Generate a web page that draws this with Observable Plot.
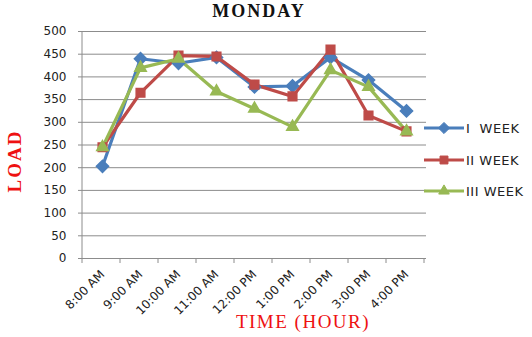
<!DOCTYPE html>
<html><head><meta charset="utf-8">
<script src="https://cdn.jsdelivr.net/npm/d3@7"></script>
<script src="https://cdn.jsdelivr.net/npm/@observablehq/plot@0.6"></script>
<style>
body{margin:0;background:#fff;}
#c{position:relative;width:532px;height:337px;}
</style></head><body><div id="c"></div>
<script>
const hours = ["8:00 AM","9:00 AM","10:00 AM","11:00 AM","12:00 PM","1:00 PM","2:00 PM","3:00 PM","4:00 PM"];
const week1 = [203, 440, 430, 443, 378, 380, 443, 393, 325];
const week2 = [245, 365, 447, 445, 383, 357, 460, 315, 280];
const week3 = [245, 420, 440, 368, 330, 290, 415, 378, 280];
const seriesNames = ["I  WEEK", "II WEEK", "III WEEK"];
const seriesColors = ["#4a7ebb", "#be4b48", "#98b954"];
const seriesSymbols = ["diamond2", "square2", "triangle2"];
const yTicks = [0,50,100,150,200,250,300,350,400,450,500];

const allVals = [week1, week2, week3];
const data = [];
allVals.forEach((vals, s) => vals.forEach((v, i) => data.push({hour: hours[i], load: v, series: seriesNames[s]})));

const chart = Plot.plot({
  width: 532, height: 337,
  marginLeft: 82, marginRight: 106, marginTop: 31, marginBottom: 79,
  style: {fontFamily: "DejaVu Sans", fontSize: "12px", color: "#222", background: "#fff", overflow: "visible"},
  x: {type: "band", domain: hours, padding: 0, label: null},
  y: {domain: [0, 500], label: null},
  color: {domain: seriesNames, range: seriesColors},
  symbol: {domain: seriesNames, range: seriesSymbols},
  marks: [
    Plot.ruleY(yTicks, {stroke: "#8c8c8c", strokeWidth: 1}),
    Plot.axisY({ticks: yTicks, tickSize: 4, tickPadding: 12, stroke: "#8c8c8c", label: null, style: {letterSpacing: "1.5px", fontSize: "12.5px"}}),
    Plot.axisX({tickSize: 0, tickRotate: -45, tickPadding: 14, label: null, style: {fontSize: "14px", letterSpacing: "0.5px"}}),
    Plot.line(data, {x: "hour", y: "load", z: "series", stroke: "series", strokeWidth: 3.2}),
    Plot.dot(data, {x: "hour", y: "load", symbol: "series", fill: "series", stroke: "series", r: 5.5})
  ]
});

const svg = d3.select(chart);
const xs = chart.scale("x");
const ys = chart.scale("y");
const x0 = xs.range[0];
const yb = ys.apply(0);
svg.append("line").attr("x1", x0).attr("x2", x0).attr("y1", ys.apply(500)).attr("y2", yb).attr("stroke", "#8c8c8c");
for (let i = 0; i <= hours.length; i++) {
  const xx = x0 + i * xs.step;
  svg.append("line").attr("x1", xx).attr("x2", xx).attr("y1", yb).attr("y2", yb + 5).attr("stroke", "#8c8c8c");
}
svg.append("text").attr("x", 259).attr("y", 17).attr("text-anchor", "middle")
  .attr("font-family", "Liberation Serif").attr("font-size", 18).attr("font-weight", "bold")
  .attr("letter-spacing", "2px").attr("fill", "#111").text("MONDAY");
svg.append("text").attr("transform", "translate(21,161) rotate(-90)").attr("text-anchor", "middle")
  .attr("font-family", "Liberation Serif").attr("font-size", 19).attr("font-weight", "bold")
  .attr("letter-spacing", "2px").attr("fill", "#ee1111").text("LOAD");
svg.append("text").attr("x", 303).attr("y", 328).attr("text-anchor", "middle")
  .attr("font-family", "Liberation Serif").attr("font-size", 19)
  .attr("letter-spacing", "1.5px").attr("fill", "#ee1111").text("TIME (HOUR)");
const legY = [128, 160, 191];
const legSym = [d3.symbolDiamond2, d3.symbolSquare2, d3.symbolTriangle2];
seriesNames.forEach((n, s) => {
  const g = svg.append("g").attr("transform", `translate(424,${legY[s]})`);
  g.append("line").attr("x1", 0).attr("x2", 40).attr("stroke", seriesColors[s]).attr("stroke-width", 3);
  g.append("path").attr("transform", "translate(20,0)").attr("d", d3.symbol(legSym[s], 80)())
    .attr("fill", seriesColors[s]).attr("stroke", seriesColors[s]);
  g.append("text").attr("x", 42).attr("y", 5).attr("text-anchor", "start")
    .attr("font-family", "DejaVu Sans").attr("font-size", 13).attr("letter-spacing", "0.5px")
    .attr("fill", "#222").text(n);
});
document.getElementById("c").appendChild(chart);
</script></body></html>
